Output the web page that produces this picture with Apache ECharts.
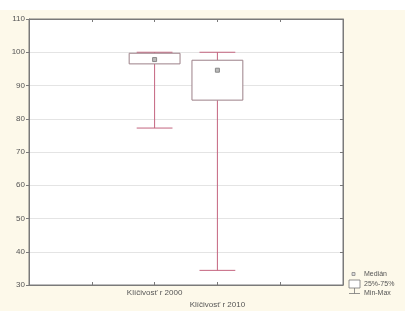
<!DOCTYPE html>
<html>
<head>
<meta charset="utf-8">
<script src="https://cdn.jsdelivr.net/npm/echarts@6/dist/echarts.min.js"></script>
<style>
html, body { margin: 0; padding: 0; background: #fdf9ea; }
#chart { width: 405px; height: 311px; }
</style>
</head>
<body>
<div id="chart"></div>
<script>
// kategorie na ose x (boxy sedi na indexech 2 a 3)
var categories = ['', '', 'Klíčivosť r 2000', 'Klíčivosť r 2010', '', ''];
var boxPos = [2, 3];
var minVals = [77.2, 34.4];
var q1Vals = [96.5, 85.6];
var medVals = [97.8, 94.6];
var q3Vals = [99.7, 97.6];
var maxVals = [100, 100];
var yMin = 30, yMax = 110, yStep = 10;
var legendNames = ['Medián', '25%-75%', 'Min-Max'];

var whiskerColor = '#c4647f';
var boxColor = '#9c8088';

var data = [];
for (var i = 0; i < boxPos.length; i++) {
	data.push([boxPos[i], minVals[i], q1Vals[i], medVals[i], q3Vals[i], maxVals[i]]);
}

function renderBox(params, api) {
	var x = api.value(0);
	var pMin = api.coord([x, api.value(1)]);
	var pQ1 = api.coord([x, api.value(2)]);
	var pMed = api.coord([x, api.value(3)]);
	var pQ3 = api.coord([x, api.value(4)]);
	var pMax = api.coord([x, api.value(5)]);
	var step = api.size([1, 0])[0];
	var bw = step * 0.81;
	var cw = step * 0.57;
	var cx = pMin[0];
	var ls = { stroke: whiskerColor, lineWidth: 1 };
	return {
		type: 'group',
		children: [
			{ type: 'line', shape: { x1: cx, y1: pMax[1], x2: cx, y2: pQ3[1] }, style: ls },
			{ type: 'line', shape: { x1: cx, y1: pQ1[1], x2: cx, y2: pMin[1] }, style: ls },
			{ type: 'line', shape: { x1: cx - cw / 2, y1: pMax[1], x2: cx + cw / 2, y2: pMax[1] }, style: ls },
			{ type: 'line', shape: { x1: cx - cw / 2, y1: pMin[1], x2: cx + cw / 2, y2: pMin[1] }, style: ls },
			{ type: 'rect', shape: { x: cx - bw / 2, y: pQ3[1], width: bw, height: pQ1[1] - pQ3[1] },
				style: { fill: '#fff', stroke: boxColor, lineWidth: 1 } },
			{ type: 'rect', shape: { x: cx - 2, y: pMed[1] - 2, width: 4, height: 4 },
				style: { fill: '#bbb', stroke: '#888', lineWidth: 1 } }
		]
	};
}

var labelStyle = { fontFamily: 'Liberation Sans', fontSize: 8, color: '#555' };

var option = {
	animation: false,
	backgroundColor: '#fdf9ea',
	grid: {
		left: 29, top: 19, right: 62, bottom: 24,
		show: true, backgroundColor: '#fff', borderColor: '#7a7a7a', borderWidth: 1
	},
	xAxis: [{
		type: 'category',
		data: categories,
		boundaryGap: false,
		axisLine: { lineStyle: { color: '#7a7a7a' } },
		axisTick: { inside: true, length: 3, interval: 0, lineStyle: { color: '#7a7a7a' } },
		axisLabel: {
			interval: 0, margin: 2, lineHeight: 12,
			fontFamily: labelStyle.fontFamily, fontSize: 8, color: '#555',
			formatter: function(v, idx) { return idx === 3 ? '\n' + v : v; }
		},
		splitLine: { show: false }
	}, {
		type: 'category',
		data: categories,
		boundaryGap: false,
		position: 'top',
		axisLine: { lineStyle: { color: '#7a7a7a' } },
		axisTick: { inside: true, length: 3, interval: 0, lineStyle: { color: '#7a7a7a' } },
		axisLabel: { show: false }
	}],
	yAxis: [{
		type: 'value',
		min: yMin, max: yMax, interval: yStep,
		axisLine: { show: true, lineStyle: { color: '#7a7a7a' } },
		axisTick: { show: true, length: 3, lineStyle: { color: '#7a7a7a' } },
		axisLabel: { margin: 4, fontFamily: labelStyle.fontFamily, fontSize: 8, color: '#555' },
		splitLine: { lineStyle: { color: '#e4e4e4' } }
	}, {
		type: 'value',
		min: yMin, max: yMax, interval: yStep,
		position: 'right',
		axisLine: { show: true, lineStyle: { color: '#7a7a7a' } },
		axisTick: { show: true, inside: true, length: 3, lineStyle: { color: '#7a7a7a' } },
		axisLabel: { show: false },
		splitLine: { show: false }
	}],
	series: [{
		type: 'custom',
		renderItem: renderBox,
		encode: { x: 0, y: [1, 2, 3, 4, 5] },
		data: data
	}],
	graphic: [
		{ type: 'rect', left: 0, top: 0, shape: { width: 405, height: 10 }, style: { fill: '#fff' }, z: -1 },
		// legenda vpravo dole
		{ type: 'rect', shape: { x: 352, y: 272.5, width: 3, height: 3 }, style: { fill: '#ddd', stroke: '#888', lineWidth: 0.8 } },
		{ type: 'text', x: 364, y: 274, style: { text: legendNames[0], fontFamily: 'Liberation Sans', fontSize: 7, fill: '#555', verticalAlign: 'middle' } },
		{ type: 'rect', shape: { x: 349, y: 280, width: 11, height: 8 }, style: { fill: '#fff', stroke: '#777', lineWidth: 0.8 } },
		{ type: 'text', x: 364, y: 284.5, style: { text: legendNames[1], fontFamily: 'Liberation Sans', fontSize: 7, fill: '#555', verticalAlign: 'middle' } },
		{ type: 'line', shape: { x1: 354.5, y1: 288, x2: 354.5, y2: 293.5 }, style: { stroke: '#777', lineWidth: 0.8 } },
		{ type: 'line', shape: { x1: 349, y1: 293.5, x2: 360, y2: 293.5 }, style: { stroke: '#777', lineWidth: 0.8 } },
		{ type: 'text', x: 364, y: 293.5, style: { text: legendNames[2], fontFamily: 'Liberation Sans', fontSize: 7, fill: '#555', verticalAlign: 'middle' } }
	]
};

var chart = echarts.init(document.getElementById('chart'));
chart.setOption(option);
</script>
</body>
</html>
